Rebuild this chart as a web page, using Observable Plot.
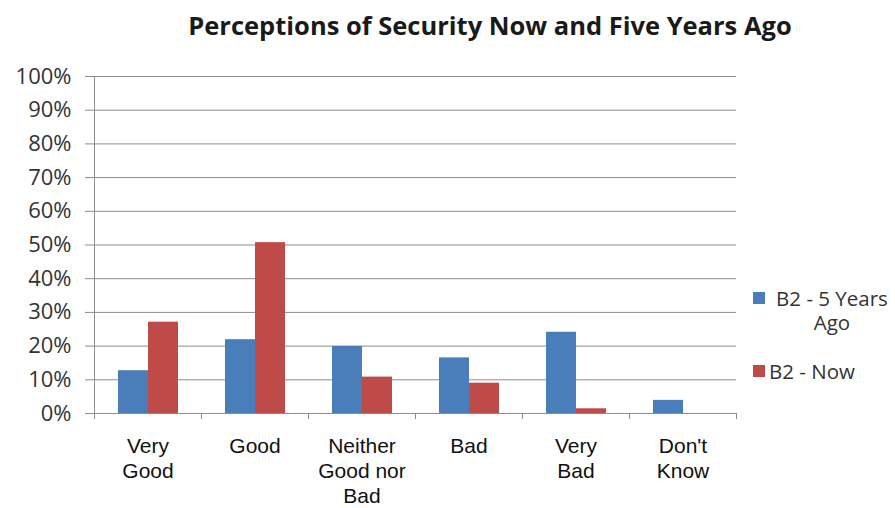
<!DOCTYPE html>
<html>
<head>
<meta charset="utf-8">
<script src="https://cdn.jsdelivr.net/npm/d3@7"></script>
<script src="https://cdn.jsdelivr.net/npm/@observablehq/plot@0.6"></script>
<style>
  body { margin: 0; background: #fff; width: 895px; height: 508px; overflow: hidden; position: relative; font-family: "Open Sans", sans-serif; }
  #title { position: absolute; left: 0; top: 10px; width: 980px; text-align: center; font-weight: bold; font-size: 25.5px; line-height: 30px; color: #1a1a1a; }
  #chart { position: absolute; left: 0; top: 56px; }
  #legend { position: absolute; left: 753px; top: 286px; color: #333; font-size: 20.5px; line-height: 24px; }
  .item { display: flex; align-items: flex-start; }
  .sw { width: 12px; height: 12px; margin-top: 6px; margin-right: 4px; flex: none; }
  .lab { width: 126px; }
</style>
</head>
<body>
<div id="title">Perceptions of Security Now and Five Years Ago</div>
<div id="chart"></div>
<div id="legend"></div>
<script>
// Survey categories and their axis labels (line breaks as printed)
const categories = ["Very Good", "Good", "Neither Good nor Bad", "Bad", "Very Bad", "Don't Know"];
const tickLabels = ["Very\nGood", "Good", "Neither\nGood nor\nBad", "Bad", "Very\nBad", "Don't\nKnow"];
const series = ["B2 - 5 Years Ago", "B2 - Now"];
const colors = ["#4A7EBB", "#BE4B48"];
// Share of respondents (%)
const fiveYearsAgo = [12.7, 21.9, 19.9, 16.5, 24.1, 3.9];
const nowValues = [27.1, 50.7, 10.8, 9.0, 1.4, 0];
const yTicks = [0, 10, 20, 30, 40, 50, 60, 70, 80, 90, 100];

const rows = categories.flatMap((c, i) => [
  {category: c, series: series[0], value: fiveYearsAgo[i]},
  {category: c, series: series[1], value: nowValues[i]}
]);
const labelOf = new Map(categories.map((c, i) => [c, tickLabels[i]]));

const chart = Plot.plot({
  width: 895,
  height: 452,
  marginTop: 20,
  marginBottom: 95,
  marginLeft: 94,
  marginRight: 159,
  style: {background: "transparent", overflow: "visible"},
  fx: {domain: categories, padding: 0, label: null},
  x: {domain: series, paddingInner: 0, paddingOuter: 0.78, axis: null},
  y: {domain: [0, 100], label: null},
  color: {domain: series, range: colors},
  marks: [
    Plot.gridY(yTicks, {stroke: "#8c8c8c", strokeOpacity: 1}),
    Plot.axisY(yTicks, {
      tickFormat: d => d + "%", tickSize: 9, tickPadding: 14,
      stroke: "#8c8c8c", fill: "#333", fontSize: 22, fontFamily: "Open Sans"
    }),
    Plot.barY(rows, {fx: "category", x: "series", y: "value", fill: "series"}),
    Plot.axisFx({
      anchor: "bottom", tickFormat: d => labelOf.get(d), tickSize: 0, tickPadding: 22,
      fill: "#111", fontSize: 21, fontFamily: "Liberation Sans", lineHeight: 1.18
    })
  ]
});

// Axis lines and category separators drawn from the chart's own scales
const fx = chart.scale("fx");
const y = chart.scale("y");
const y0 = y.apply(0), y100 = y.apply(100);
const edges = categories.map(c => fx.apply(c)).concat([fx.apply(categories[categories.length - 1]) + fx.bandwidth]);
const g = d3.select(chart).append("g").attr("stroke", "#8c8c8c").attr("stroke-width", 1);
g.append("line").attr("x1", edges[0] + 0.5).attr("x2", edges[0] + 0.5).attr("y1", y100).attr("y2", y0);
g.selectAll(".sep").data(edges).join("line")
  .attr("x1", d => Math.round(d) + 0.5).attr("x2", d => Math.round(d) + 0.5)
  .attr("y1", y0).attr("y2", y0 + 6);

document.getElementById("chart").append(chart);

// Legend
const legend = d3.select("#legend");
series.forEach((s, i) => {
  const item = legend.append("div").attr("class", "item").style("margin-bottom", i === 0 ? "25px" : "0");
  item.append("div").attr("class", "sw").style("background", colors[i]);
  item.append("div").attr("class", "lab").style("text-align", i === 0 ? "center" : "left").text(s);
});
</script>
</body>
</html>
